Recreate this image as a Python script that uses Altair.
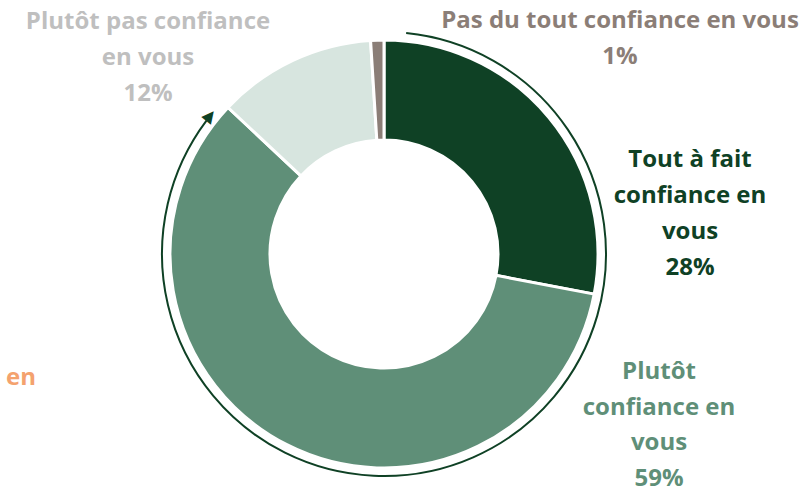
import math
import altair as alt
import pandas as pd

categories = ["Tout à fait confiance en vous", "Plutôt confiance en vous",
              "Plutôt pas confiance en vous", "Pas du tout confiance en vous"]
values = [28, 59, 12, 1]
colors = ["#0F4125", "#5F8F78", "#D7E5DF", "#8B7E77"]

df = pd.DataFrame({"cat": categories, "val": values, "ord": list(range(len(values)))})

CX, CY = 384, 254
R_OUT, R_IN, R_ARROW = 214, 114, 222

donut = alt.Chart(df).mark_arc(
    outerRadius=R_OUT, innerRadius=R_IN, stroke="white", strokeWidth=3
).encode(
    theta=alt.Theta("val:Q", stack=True),
    order=alt.Order("ord:Q"),
    color=alt.Color("cat:N", scale=alt.Scale(domain=categories, range=colors), legend=None),
    x=alt.value(CX), y=alt.value(CY),
)

total = sum(values)
end_angle = (values[0] + values[1]) / total * 2 * math.pi - 0.11
start_angle = 0.1

arc_line = alt.Chart(pd.DataFrame({"a": [0]})).mark_arc(
    outerRadius=R_ARROW, innerRadius=R_ARROW, fillOpacity=0, fill="white",
    stroke="#0F4125", strokeWidth=2
).encode(
    theta=alt.value(start_angle), theta2=alt.value(end_angle),
    x=alt.value(CX), y=alt.value(CY),
)

head_angle = end_angle + 0.03
head = alt.Chart(pd.DataFrame({"a": [head_angle]})).transform_calculate(
    px=f"{CX} + {R_ARROW} * sin(datum.a)",
    py=f"{CY} - {R_ARROW} * cos(datum.a)",
).mark_text(
    text="▲", font="DejaVu Sans", fontSize=16, color="#0F4125",
    angle=round(math.degrees(head_angle) - 270, 1) % 360, baseline="middle", align="center"
).encode(
    x=alt.X("px:Q", scale=None), y=alt.Y("py:Q", scale=None)
)

def label(text, x, y, color, lh=36):
    return alt.Chart(pd.DataFrame({"t": [text]})).mark_text(
        font="Open Sans", fontWeight="bold", fontSize=24, color=color,
        lineBreak="\n", lineHeight=lh, align="center", baseline="middle"
    ).encode(text="t:N", x=alt.value(x), y=alt.value(y))

labels = [
    label("Pas du tout confiance en vous\n1%", 620, 21, "#8B7E77"),
    label("Tout à fait\nconfiance en\nvous\n28%", 690, 160, "#0F4125"),
    label("Plutôt\nconfiance en\nvous\n59%", 659, 372, "#5F8F78", 35.5),
    label("Plutôt pas confiance\nen vous\n12%", 148, 22, "#BFBFBF"),
    label("en", 21, 378, "#F4A26E"),
]

chart = alt.layer(donut, arc_line, head, *labels).properties(
    width=804, height=496, padding=0, autosize=alt.AutoSizeParams(type="none")
).configure_view(stroke=None)

chart.save("out.html", embed_options={"renderer": "svg", "actions": False})
